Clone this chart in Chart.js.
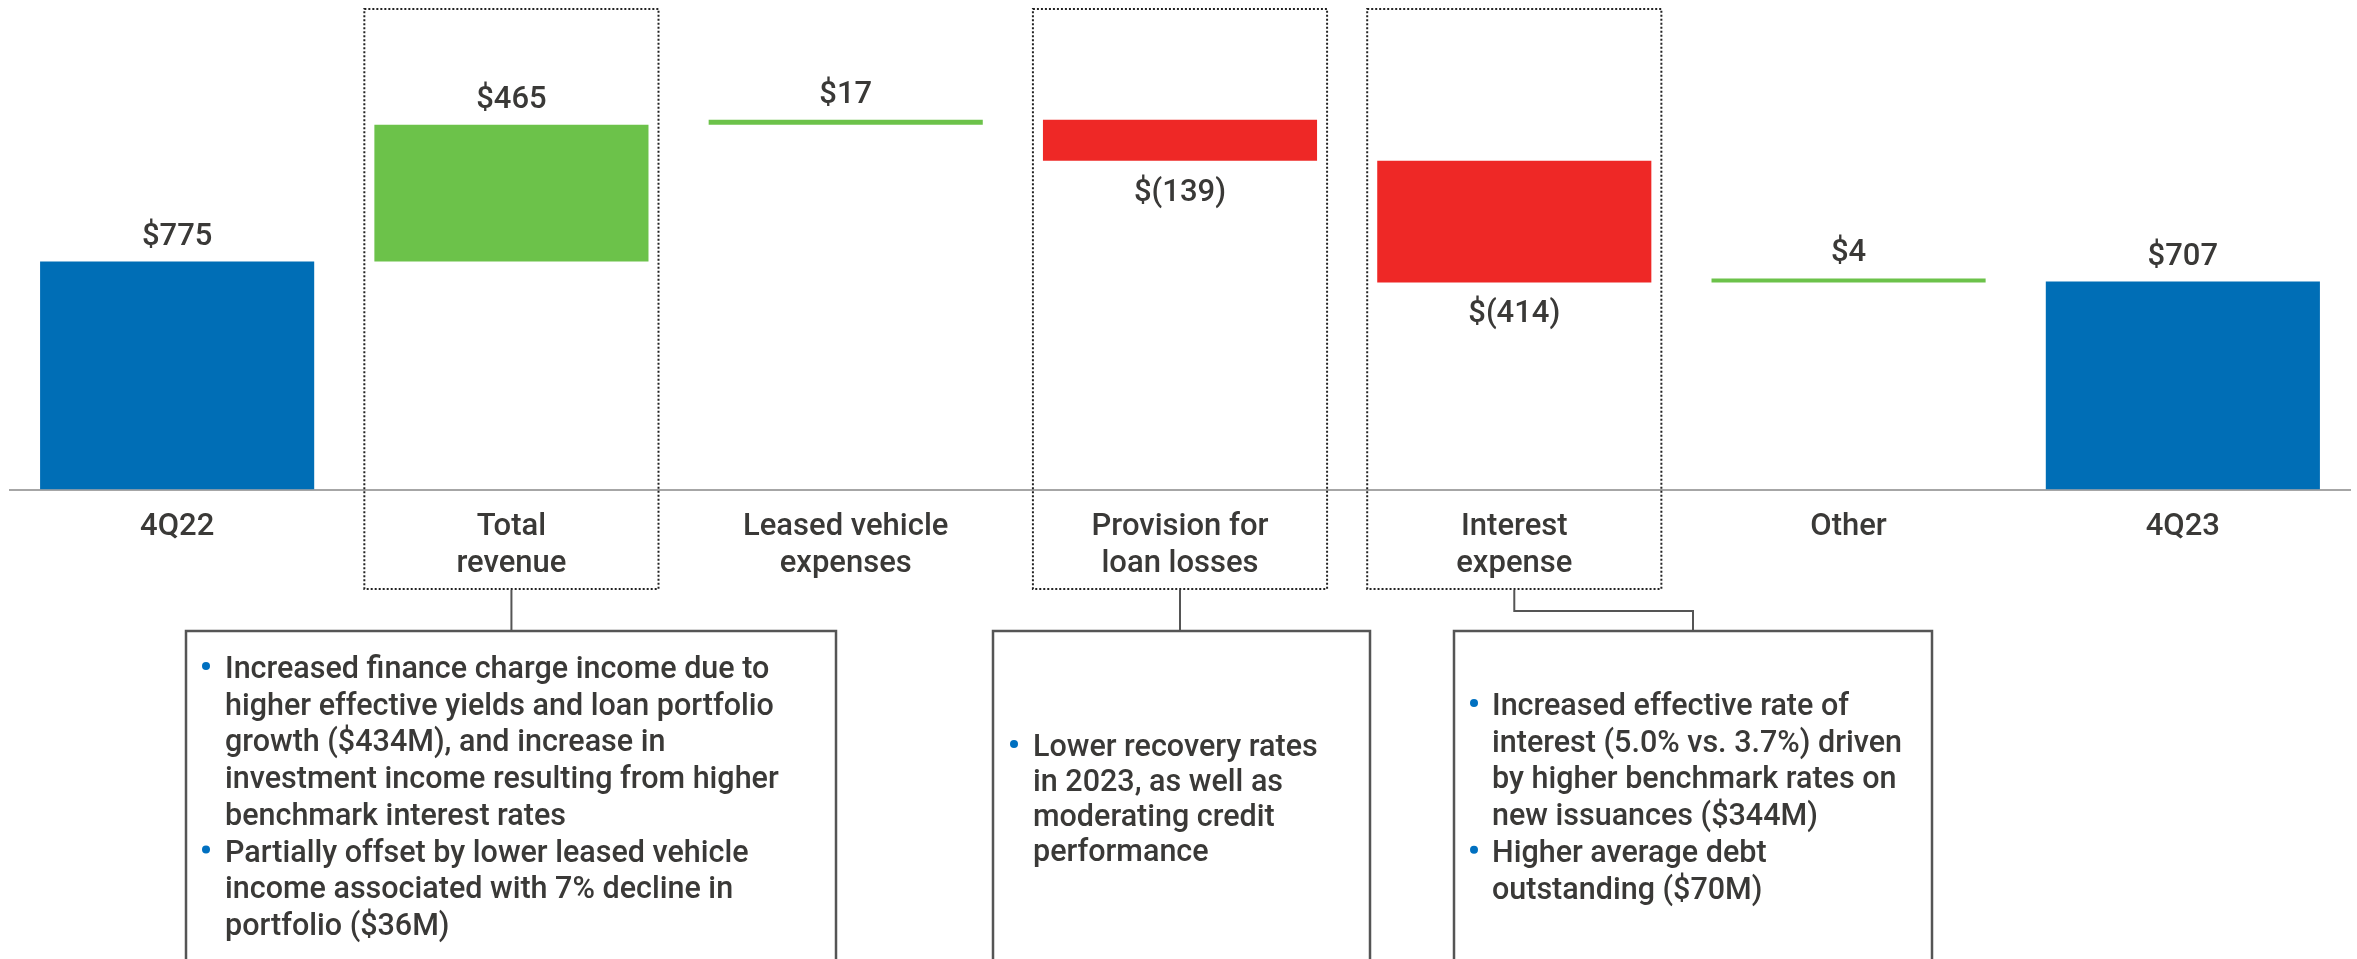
<!DOCTYPE html>
<html>
<head>
<meta charset="utf-8">
<script src="https://cdn.jsdelivr.net/npm/chart.js@4.4.1/dist/chart.umd.min.js"></script>
<style>
html,body{margin:0;padding:0;background:#ffffff;}
#wrap{position:relative;width:2357px;height:959px;overflow:hidden;}
canvas{display:block;}
</style>
</head>
<body>
<div id="wrap"><canvas id="chart" width="2357" height="959"></canvas></div>
<script>
// ---- Data ----
const categories = [['4Q22'], ['Total', 'revenue'], ['Leased vehicle', 'expenses'], ['Provision for', 'loan losses'], ['Interest', 'expense'], ['Other'], ['4Q23']];
const changes = [775, 465, 17, -139, -414, 4, 707];
const kinds = ['total', 'delta', 'delta', 'delta', 'delta', 'delta', 'total'];
const valueLabels = ['$775', '$465', '$17', '$(139)', '$(414)', '$4', '$707'];
const highlightedCategories = [1, 3, 4];
const noteTotalRevenue = [
  ['Increased finance charge income due to', 'higher effective yields and loan portfolio', 'growth ($434M), and increase in', 'investment income resulting from higher', 'benchmark interest rates'],
  ['Partially offset by lower leased vehicle', 'income associated with 7% decline in', 'portfolio ($36M)']
];
const noteProvision = [
  ['Lower recovery rates', 'in 2023, as well as', 'moderating credit', 'performance']
];
const noteInterest = [
  ['Increased effective rate of', 'interest (5.0% vs. 3.7%) driven', 'by higher benchmark rates on', 'new issuances ($344M)'],
  ['Higher average debt', 'outstanding ($70M)']
];

// ---- Build waterfall ranges ----
let running = 0;
const ranges = changes.map((v, i) => {
  if (kinds[i] === 'total') { running = v; return [0, v]; }
  const start = running; running += v; return [start, running];
});
const BLUE = '#006EB6', GREEN = '#6CC24A', RED = '#EE2826', TEXT = '#3A3937', LINE = '#555555';
const colors = changes.map((v, i) => kinds[i] === 'total' ? BLUE : (v >= 0 ? GREEN : RED));
const FONT = 'Roboto, "Open Sans", sans-serif';
const WEIGHT = 500;

const annotationPlugin = {
  id: 'annotations',
  afterDatasetsDraw(chart) {
    const ctx = chart.ctx;
    const meta = chart.getDatasetMeta(0);
    const xs = chart.scales.x;
    // value labels
    ctx.save();
    ctx.font = WEIGHT + ' 31px ' + FONT;
    ctx.fillStyle = TEXT;
    ctx.textAlign = 'center';
    ctx.textBaseline = 'alphabetic';
    meta.data.forEach((bar, i) => {
      const top = Math.min(bar.y, bar.base), bottom = Math.max(bar.y, bar.base);
      if (changes[i] >= 0) ctx.fillText(valueLabels[i], bar.x, top - 17);
      else ctx.fillText(valueLabels[i], bar.x, bottom + 40);
    });
    ctx.restore();

    // dotted highlight boxes
    const catW = xs.width / categories.length;
    const boxTop = 9, boxBottom = 589;
    ctx.save();
    ctx.strokeStyle = '#222';
    ctx.lineWidth = 2;
    ctx.setLineDash([2, 2]);
    highlightedCategories.forEach(i => {
      const cx = xs.getPixelForValue(i);
      const hw = catW * 0.44;
      ctx.strokeRect(cx - hw, boxTop, hw * 2, boxBottom - boxTop);
    });
    ctx.restore();

    // connectors
    const c1 = xs.getPixelForValue(1), c3 = xs.getPixelForValue(3), c4 = xs.getPixelForValue(4);
    ctx.save();
    ctx.strokeStyle = LINE;
    ctx.lineWidth = 2;
    ctx.beginPath();
    ctx.moveTo(c1, boxBottom + 1); ctx.lineTo(c1, 631);
    ctx.moveTo(c3, boxBottom + 1); ctx.lineTo(c3, 631);
    ctx.moveTo(c4, boxBottom + 1); ctx.lineTo(c4, 611); ctx.lineTo(1693, 611); ctx.lineTo(1693, 631);
    ctx.stroke();
    // note boxes
    const boxes = [
      {l: 186, r: 836, note: noteTotalRevenue, first: 678, lh: 36.7, tx: 225, bx: 206},
      {l: 993, r: 1370, note: noteProvision, first: 756, lh: 35, tx: 1033, bx: 1014},
      {l: 1454, r: 1932, note: noteInterest, first: 715, lh: 36.7, tx: 1492, bx: 1474}
    ];
    boxes.forEach(b => {
      ctx.strokeStyle = LINE;
      ctx.lineWidth = 2.5;
      ctx.strokeRect(b.l, 631, b.r - b.l, 400);
      ctx.font = WEIGHT + ' 30.5px ' + FONT;
      ctx.textAlign = 'left';
      ctx.textBaseline = 'alphabetic';
      let line = 0;
      b.note.forEach(bullet => {
        bullet.forEach((txt, k) => {
          const y = b.first + line * b.lh;
          if (k === 0) {
            ctx.fillStyle = '#0070C0';
            ctx.beginPath(); ctx.arc(b.bx, y - 12, 4, 0, Math.PI * 2); ctx.fill();
          }
          ctx.fillStyle = TEXT;
          ctx.fillText(txt, b.tx, y);
          line++;
        });
      });
    });
    ctx.restore();
  }
};

new Chart(document.getElementById('chart'), {
  type: 'bar',
  data: {
    labels: categories,
    datasets: [{
      data: ranges,
      backgroundColor: colors,
      borderWidth: 0,
      barPercentage: 0.82,
      categoryPercentage: 1,
      minBarLength: 4
    }]
  },
  options: {
    responsive: false,
    animation: false,
    devicePixelRatio: 1,
    layout: {padding: {left: 10, right: 7, top: 19, bottom: 0}},
    plugins: {legend: {display: false}, tooltip: {enabled: false}},
    scales: {
      x: {
        grid: {display: false, drawTicks: false},
        border: {display: true, color: '#A6A6A6', width: 2},
        ticks: {font: {family: FONT, size: 31, weight: WEIGHT}, color: TEXT, padding: 19, maxRotation: 0, autoSkip: false},
        afterFit(s) { s.height = 469.5; }
      },
      y: {display: false, min: 0, max: 1600}
    }
  },
  plugins: [annotationPlugin]
});
</script>
</body>
</html>
